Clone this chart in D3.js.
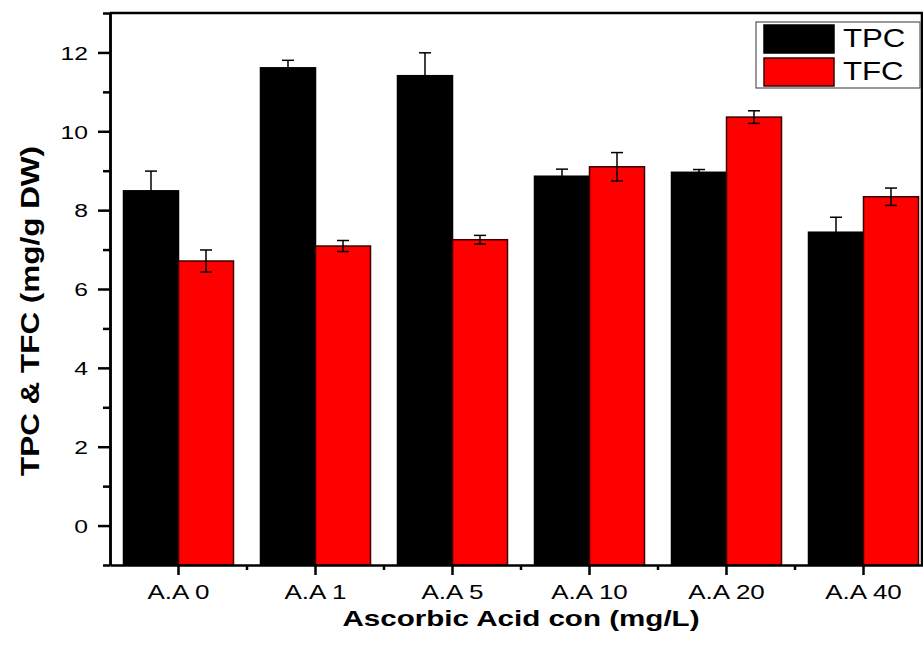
<!DOCTYPE html>
<html lang="en">
<head>
    <meta charset="UTF-8">
    <title>TPC & TFC</title>
    <script src="https://cdn.jsdelivr.net/npm/d3@7"></script>
    <style>
        body { margin: 0; background: #fff; }
        text { font-family: "Liberation Sans", Arial, sans-serif; fill: #000; }
    </style>
</head>
<body>
    <svg width="923" height="648" id="mainsvg"></svg>
    <script>
        // data
        const categories = ['A.A 0', 'A.A 1', 'A.A 5', 'A.A 10', 'A.A 20', 'A.A 40'];
        const seriesNames = ['TPC', 'TFC'];
        const tpcValues = [8.49, 11.61, 11.41, 8.86, 8.96, 7.44];
        const tpcErrors = [0.50, 0.19, 0.58, 0.18, 0.07, 0.38];
        const tfcValues = [6.71, 7.09, 7.25, 9.10, 10.36, 8.34];
        const tfcErrors = [0.28, 0.14, 0.11, 0.36, 0.16, 0.22];
        const yTicks = [0, 2, 4, 6, 8, 10, 12];
        const yMinorTicks = [-1, 1, 3, 5, 7, 9, 11, 13];
        const colors = ['#000000', '#ff0000'];

        const svg = d3.select('#mainsvg');
        const width = +svg.attr('width');
        const height = +svg.attr('height');
        const margin = { top: 13, left: 110, bottom: 83, right: -9 };
        const plotBottom = height - margin.bottom;
        const plotRight = width - margin.right;

        const x0 = d3.scaleBand().domain(categories)
            .range([margin.left, plotRight])
            .paddingInner(0.197).paddingOuter(0.0985);
        const x1 = d3.scaleBand().domain(seriesNames).range([0, x0.bandwidth()]);
        const y = d3.scaleLinear().domain([-1, 13]).range([plotBottom, margin.top]);

        // widen text horizontally like the original (scale about its anchor point)
        function stretch(sel, k) {
            sel.each(function () {
                const t = d3.select(this);
                const tx = +t.attr('x') || 0, ty = +t.attr('y') || 0;
                t.attr('x', 0).attr('y', 0)
                    .attr('transform', `translate(${tx},${ty}) scale(${k},1)`);
            });
        }

        const rows = categories.map((c, i) => ({
            cat: c,
            vals: [
                { key: 'TPC', v: tpcValues[i], e: tpcErrors[i] },
                { key: 'TFC', v: tfcValues[i], e: tfcErrors[i] }
            ]
        }));

        const groups = svg.append('g').selectAll('g').data(rows).join('g')
            .attr('transform', d => `translate(${x0(d.cat)},0)`);

        groups.selectAll('rect').data(d => d.vals).join('rect')
            .attr('x', d => x1(d.key))
            .attr('width', x1.bandwidth())
            .attr('y', d => y(d.v))
            .attr('height', d => y(-1) - y(d.v))
            .attr('fill', (d, i) => colors[i])
            .attr('stroke', (d, i) => i === 0 ? '#000' : '#3a0000')
            .attr('stroke-width', 1.5);

        // error bars
        const eb = groups.selectAll('g.err').data(d => d.vals).join('g').attr('class', 'err')
            .attr('stroke', '#000').attr('stroke-width', 1.5);
        const cx = d => x1(d.key) + x1.bandwidth() / 2;
        eb.append('line')
            .attr('x1', cx).attr('x2', cx)
            .attr('y1', d => y(d.v - d.e)).attr('y2', d => y(d.v + d.e));
        eb.append('line')
            .attr('x1', d => cx(d) - 6).attr('x2', d => cx(d) + 6)
            .attr('y1', d => y(d.v + d.e)).attr('y2', d => y(d.v + d.e));
        eb.append('line')
            .attr('x1', d => cx(d) - 6).attr('x2', d => cx(d) + 6)
            .attr('y1', d => y(d.v - d.e)).attr('y2', d => y(d.v - d.e));

        // frame (top and right)
        const frameRight = Math.min(plotRight, width - 1);
        svg.append('path')
            .attr('d', `M${margin.left},${margin.top} H${frameRight} V${plotBottom}`)
            .attr('fill', 'none').attr('stroke', '#000').attr('stroke-width', 2.5);

        // y axis
        svg.append('g').attr('transform', `translate(${margin.left},0)`)
            .call(d3.axisLeft(y).tickValues(yMinorTicks).tickSize(7).tickSizeOuter(0).tickFormat(''));
        const yAxis = svg.append('g').attr('transform', `translate(${margin.left},0)`)
            .call(d3.axisLeft(y).tickValues(yTicks).tickSize(12).tickSizeOuter(0).tickPadding(10));
        yAxis.selectAll('text').attr('font-size', 19).attr('dy', null)
            .attr('y', 6.8).call(stretch, 1.3);

        // x axis
        const xAxis = svg.append('g').attr('transform', `translate(0,${plotBottom})`)
            .call(d3.axisBottom(x0).tickSize(10).tickSizeOuter(0).tickPadding(12));
        xAxis.selectAll('text').attr('font-size', 20).attr('dy', null)
            .attr('y', 34).call(stretch, 1.3);
        const step = x0.step();
        const bounds = categories.slice(0, -1).map(c => x0(c) + x0.bandwidth() + (step - x0.bandwidth()) / 2);
        svg.append('g').selectAll('line').data(bounds).join('line')
            .attr('x1', d => d).attr('x2', d => d)
            .attr('y1', plotBottom).attr('y2', plotBottom + 5)
            .attr('stroke', '#000').attr('stroke-width', 2.5);

        svg.selectAll('.domain, .tick line').attr('stroke', '#000').attr('stroke-width', 2.5);
        svg.selectAll('.tick text').attr('font-family', '"Liberation Sans", Arial, sans-serif');

        // axis titles
        svg.append('text')
            .attr('x', (margin.left + frameRight) / 2 + 5).attr('y', 626)
            .attr('text-anchor', 'middle')
            .attr('font-size', 22).attr('font-weight', 'bold')
            .text('Ascorbic Acid con (mg/L)')
            .attr('textLength', 357).attr('lengthAdjust', 'spacingAndGlyphs');

        svg.append('text')
            .attr('transform', `translate(39,${(margin.top + plotBottom) / 2 + 22}) rotate(-90)`)
            .attr('text-anchor', 'middle')
            .attr('font-size', 25).attr('font-weight', 'bold')
            .text('TPC & TFC (mg/g DW)')
            .attr('textLength', 330).attr('lengthAdjust', 'spacingAndGlyphs');

        // legend
        const legend = svg.append('g');
        legend.append('rect')
            .attr('x', 756).attr('y', 22).attr('width', 164).attr('height', 66)
            .attr('fill', '#fff').attr('stroke', '#555').attr('stroke-width', 1.2);
        const items = legend.selectAll('g.item').data(seriesNames).join('g').attr('class', 'item')
            .attr('transform', (d, i) => `translate(764,${25 + i * 33})`);
        items.append('rect')
            .attr('width', 70).attr('height', 28)
            .attr('fill', (d, i) => colors[i])
            .attr('stroke', (d, i) => i === 0 ? '#000' : '#3a0000').attr('stroke-width', 1.5);
        items.append('text')
            .attr('x', 79).attr('y', 22)
            .attr('font-size', 26)
            .text(d => d)
            .call(stretch, 1.2);
    </script>
</body>
</html>
